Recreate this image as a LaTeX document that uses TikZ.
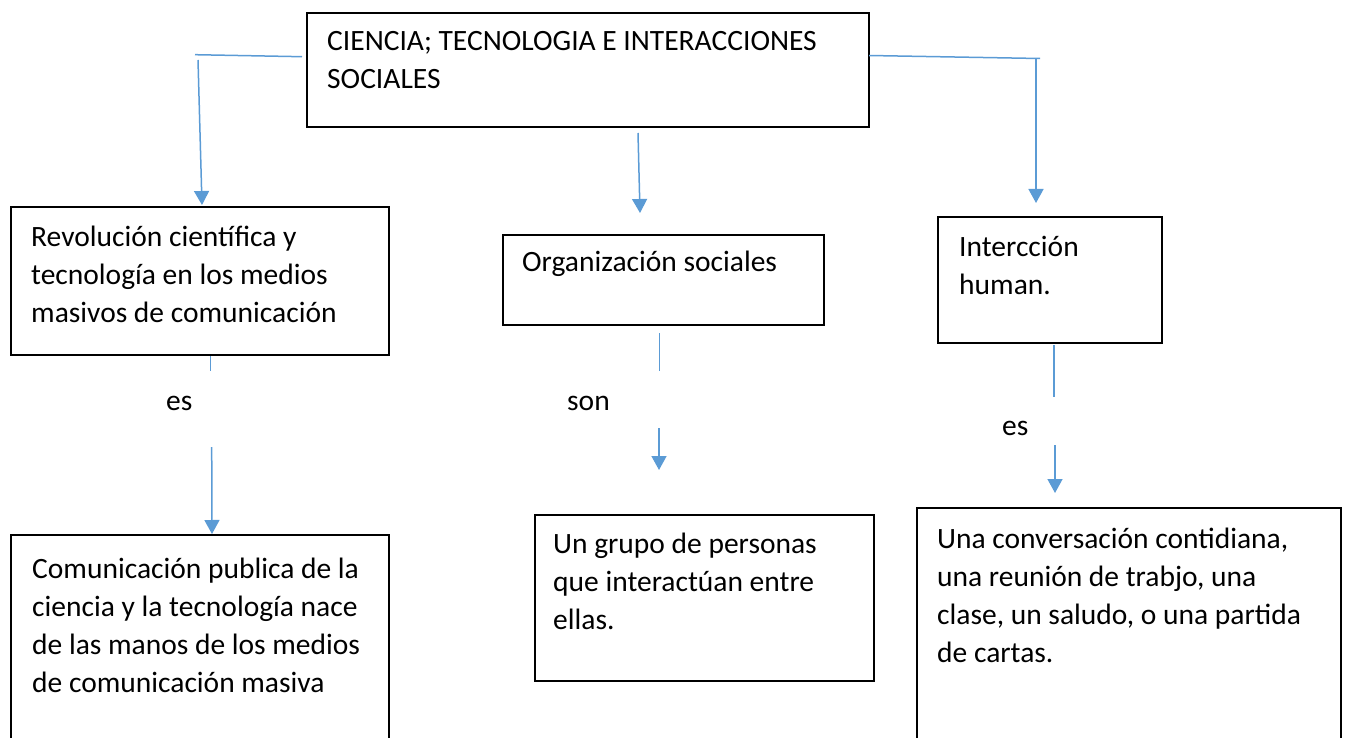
\documentclass[tikz,border=0pt]{standalone}
\usepackage{fontspec}
\setmainfont{Carlito}
\usetikzlibrary{positioning}
\usetikzlibrary{arrows.meta}
\definecolor{lineblue}{HTML}{5B9BD5}
\tikzset{
    cajon/.style  = {rectangle, draw=black, line width=2pt, outer sep=0pt, inner sep=0pt, anchor=north west},
    texto/.style  = {inner sep=0pt, align=left, font=\fontsize{29.5}{38}\selectfont},
    etiq/.style   = {anchor=base west, inner sep=0pt, font=\fontsize{29.5}{38}\selectfont},
    linea/.style  = {draw=lineblue, line width=1.5pt},
    flecha/.style = {-{Triangle[width=15pt,length=14pt]}, draw=lineblue, line width=1.5pt}
}
\begin{document}
\begin{tikzpicture}[x=1pt, y=-1pt]
  \useasboundingbox (0,0) rectangle (1349,738);
  \clip (0,0) rectangle (1349,738);

  % cajas
  \node[cajon, minimum width=562pt, minimum height=114pt] (ciencia) at (307,13) {};
  \node[cajon, minimum width=378pt, minimum height=148pt] (rev) at (11,207) {};
  \node[cajon, minimum width=321pt, minimum height=90pt] (org) at (503,235) {};
  \node[cajon, minimum width=224pt, minimum height=126pt] (inter) at (938,217) {};
  \node[cajon, minimum width=378pt, minimum height=260pt] (comu) at (11,535) {};
  \node[cajon, minimum width=339pt, minimum height=166pt] (grupo) at (535,515) {};
  \node[cajon, minimum width=424pt, minimum height=260pt] (conv) at (917,508) {};

  % textos
  \node[texto, below right=10.4pt and 20pt of ciencia.north west] (cienciat)
    {\strut CIENCIA; TECNOLOGIA E INTERACCIONES\\SOCIALES};
  \node[texto, below right=13.1pt and 20pt of rev.north west] (revt)
    {\strut Revolución científica y\\tecnología en los medios\\masivos de comunicación};
  \node[texto, below right=10.1pt and 19pt of org.north west] (orgt)
    {\strut Organización sociales};
  \node[texto, below right=13.1pt and 21pt of inter.north west] (intert)
    {\strut Intercción\\human.};
  \node[texto, below right=16.4pt and 21pt of comu.north west] (comut)
    {\strut Comunicación publica de la\\ciencia y la tecnología nace\\de las manos de los medios\\de comunicación masiva};
  \node[texto, below right=11.4pt and 18pt of grupo.north west] (grupot)
    {\strut Un grupo de personas\\que interactúan entre\\ellas.};
  \node[texto, below right=13.4pt and 20pt of conv.north west] (convt)
    {\strut Una conversación contidiana,\\una reunión de trabjo, una\\clase, un saludo, o una partida\\de cartas.};

  \node[etiq] (es1) at (166,410) {es};
  \node[etiq] (son) at (567,410) {son};
  \node[etiq] (es2) at (1002,435) {es};

  % puntos de los conectores
  \coordinate (iz0) at (302,56.7);
  \coordinate (iz1) at (195,54.7);
  \coordinate (iz2) at (198,60);
  \coordinate (iz3) at (202,205);
  \coordinate (de0) at (869,55.5);
  \coordinate (de1) at (1040,58.5);
  \coordinate (de2) at (1036,59);
  \coordinate (de3) at (1036,203);
  \coordinate (ce0) at (638,133);
  \coordinate (ce1) at (640,213);
  \coordinate (a0) at (210.7,356);
  \coordinate (a1) at (210.7,370.7);
  \coordinate (a2) at (211.7,447);
  \coordinate (a3) at (212,534);
  \coordinate (b0) at (659.3,333);
  \coordinate (b1) at (659.3,370.7);
  \coordinate (b2) at (659,428);
  \coordinate (b3) at (659,470);
  \coordinate (c0) at (1054,345);
  \coordinate (c1) at (1054,396.7);
  \coordinate (c2) at (1055,445);
  \coordinate (c3) at (1055,493);

  \draw[linea] (iz0) -- (iz1);
  \draw[flecha] (iz2) -- (iz3);
  \draw[linea] (de0) -- (de1);
  \draw[flecha] (de2) -- (de3);
  \draw[flecha] (ce0) -- (ce1);
  \draw[linea] (a0) -- (a1);
  \draw[flecha] (a2) -- (a3);
  \draw[linea] (b0) -- (b1);
  \draw[flecha] (b2) -- (b3);
  \draw[linea] (c0) -- (c1);
  \draw[flecha] (c2) -- (c3);
\end{tikzpicture}
\end{document}
